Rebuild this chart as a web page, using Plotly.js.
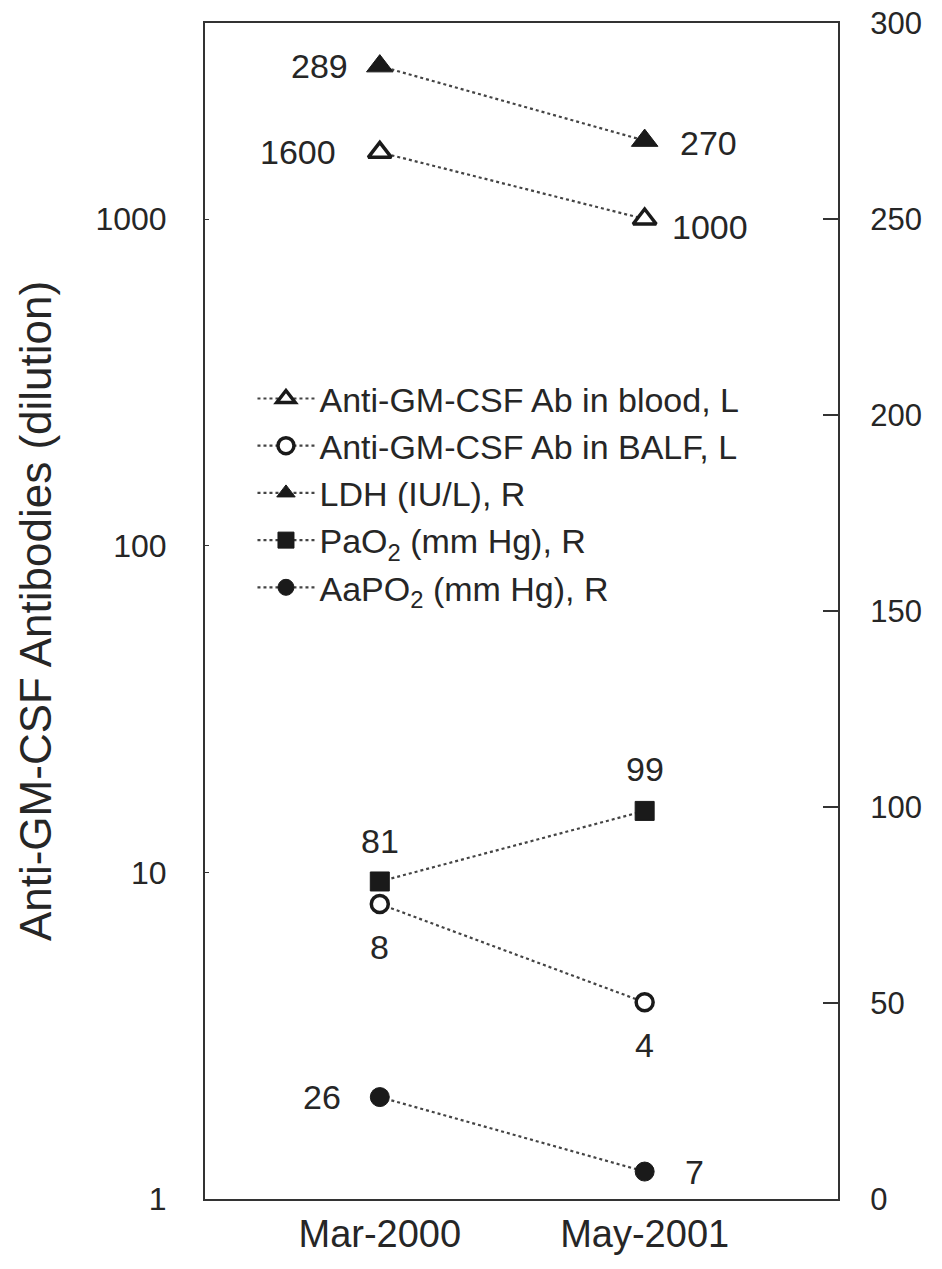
<!DOCTYPE html>
<html>
<head>
<meta charset="utf-8">
<script src="https://cdn.plot.ly/plotly-3.0.1.min.js"></script>
<style>html,body{margin:0;padding:0;background:#fff;}#chart{width:942px;height:1269px;}</style>
</head>
<body>
<div id="chart"></div>
<script>
const dates = ["Mar-2000", "May-2001"];
const bloodAb = [1600, 1000];
const balfAb = [8, 4];
const ldh = [289, 270];
const pao2 = [81, 99];
const aapo2 = [26, 7];
const leftTicks = [1, 10, 100, 1000];
const rightTicks = [0, 50, 100, 150, 200, 250, 300];

const FONT = "Liberation Sans, Arial, sans-serif";
const INK = "#1a1a1a";
const TXT = "#262626";
const lineStyle = {color: "#444", width: 2.2, dash: "dot"};

function tr(name, y, axis, symbol, size, open) {
  return {
    x: dates, y: y, yaxis: axis, name: name, type: "scatter",
    mode: "lines+markers",
    line: lineStyle,
    marker: {symbol: symbol, size: size, color: open ? "#fff" : INK,
             line: {color: INK, width: open ? 3.5 : 1}},
    cliponaxis: false
  };
}

const data = [
  tr("Anti-GM-CSF Ab in blood, L", bloodAb, "y", "triangle-up", 20, true),
  tr("Anti-GM-CSF Ab in BALF, L", balfAb, "y", "circle", 17, true),
  tr("LDH (IU/L), R", ldh, "y2", "triangle-up", 23, false),
  tr("PaO<sub>2</sub> (mm Hg), R", pao2, "y2", "square", 19, false),
  tr("AaPO<sub>2</sub> (mm Hg), R", aapo2, "y2", "circle", 19, false),
  // empty helper trace so the inner tick-mark axis of the right scale is drawn
  {x: [], y: [], yaxis: "y3", type: "scatter", mode: "markers", showlegend: false, hoverinfo: "skip"}
];

// value labels, placed at the data points through the axes
const labelSpec = [
  {vals: bloodAb, yref: "y", log: true, place: [{xa: "right", dx: -42, dy: 0}, {xa: "left", dx: 25, dy: -8}]},
  {vals: balfAb, yref: "y", log: true, place: [{xa: "center", dx: 0, dy: -43}, {xa: "center", dx: 0, dy: -43}]},
  {vals: ldh, yref: "y2", log: false, place: [{xa: "right", dx: -30, dy: 0}, {xa: "left", dx: 33, dy: -2}]},
  {vals: pao2, yref: "y2", log: false, place: [{xa: "center", dx: 0, dy: 40}, {xa: "center", dx: 0, dy: 42}]},
  {vals: aapo2, yref: "y2", log: false, place: [{xa: "right", dx: -37, dy: 0}, {xa: "left", dx: 38, dy: 0}]}
];
const annotations = [];
labelSpec.forEach(s => {
  s.vals.forEach((v, i) => {
    const p = s.place[i];
    annotations.push({
      x: dates[i], xref: "x", y: s.log ? Math.log10(v) : v, yref: s.yref,
      text: String(v), showarrow: false, xanchor: p.xa, yanchor: "middle",
      xshift: p.dx, yshift: p.dy,
      font: {family: FONT, size: 34, color: TXT}
    });
  });
});

const layout = {
  width: 942, height: 1269,
  margin: {l: 205, r: 104, t: 23, b: 70},
  paper_bgcolor: "#fff", plot_bgcolor: "#fff",
  font: {family: FONT, color: TXT},
  showlegend: true,
  annotations: annotations,
  legend: {x: 0.075, y: 0.705, xanchor: "left", yanchor: "top",
           font: {family: FONT, size: 34, color: TXT},
           bgcolor: "rgba(0,0,0,0)", itemwidth: 57, tracegroupgap: 0},
  xaxis: {type: "category", range: [-0.66, 1.73], showline: true, mirror: true,
          linecolor: "#333", linewidth: 2, ticks: "", showgrid: false, zeroline: false,
          tickfont: {family: FONT, size: 38, color: TXT}},
  yaxis: {type: "log", range: [0, 3.6], tickvals: leftTicks, ticktext: leftTicks.map(String),
          showline: true, linecolor: "#333", linewidth: 2, ticks: "inside", ticklen: 4,
          tickcolor: "#333", showgrid: false, zeroline: false, ticklabelstandoff: 30,
          tickfont: {family: FONT, size: 32, color: TXT},
          title: {text: "Anti-GM-CSF Antibodies (dilution)", font: {family: FONT, size: 44, color: TXT}, standoff: 30}},
  yaxis2: {overlaying: "y", side: "right", range: [0, 300], tickvals: rightTicks,
           showline: true, linecolor: "#333", linewidth: 2, ticks: "outside", ticklen: 24,
           tickcolor: "rgba(0,0,0,0)", showgrid: false, zeroline: false,
           tickfont: {family: FONT, size: 31, color: TXT}},
  yaxis3: {overlaying: "y", side: "right", range: [0, 300], tickvals: rightTicks,
           showline: false, ticks: "inside", ticklen: 15, tickwidth: 2, tickcolor: "#333",
           showticklabels: false, showgrid: false, zeroline: false}
};

Plotly.newPlot("chart", data, layout, {staticPlot: true});
</script>
</body>
</html>
